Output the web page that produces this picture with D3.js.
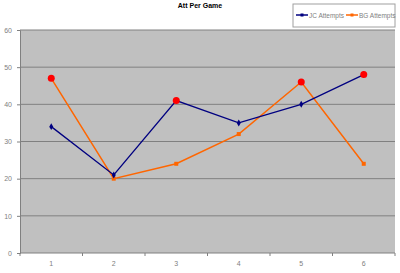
<!DOCTYPE html>
<html>
<head>
<meta charset="utf-8">
<script src="https://cdn.jsdelivr.net/npm/d3@7"></script>
<style>
  body { margin: 0; background: #fff; }
  text { font-family: Arial, "Liberation Sans", sans-serif; }
</style>
</head>
<body>
<div id="chart"></div>
<script>
// data
let games = [1, 2, 3, 4, 5, 6];
let jcAttempts = [34, 21, 41, 35, 40, 48];
let bgAttempts = [47, 20, 24, 32, 46, 24];
let yTicks = [0, 10, 20, 30, 40, 50, 60];
// red dots drawn on top: [game, value]
let highlights = [[1, 47], [3, 41], [5, 46], [6, 48]];

let width = 400, height = 273;
let plotL = 20, plotR = 395, plotT = 30, plotB = 253;

let svg = d3.select('#chart')
    .append('svg')
    .attr('width', width)
    .attr('height', height);

let x = d3.scaleBand().domain(games).range([plotL, plotR]);
let y = d3.scaleLinear().domain([0, 60]).range([plotB, plotT]);
let cx = d => x(d) + x.bandwidth() / 2;

// plot area
svg.append('rect')
    .attr('x', plotL).attr('y', plotT)
    .attr('width', plotR - plotL).attr('height', plotB - plotT)
    .attr('fill', '#c0c0c0');

// gridlines
svg.append('g')
    .selectAll('line')
    .data(yTicks.filter(d => d > 0))
    .enter().append('line')
    .attr('x1', plotL).attr('x2', plotR)
    .attr('y1', d => y(d)).attr('y2', d => y(d))
    .attr('stroke', '#808080')
    .attr('stroke-width', 1);

// y axis
let yAxis = d3.axisLeft(y).tickValues(yTicks).tickSize(3).tickPadding(5);
let gy = svg.append('g')
    .attr('transform', 'translate(' + plotL + ',0)')
    .call(yAxis);
gy.select('.domain').attr('stroke', '#808080');
gy.selectAll('.tick line').attr('stroke', '#808080');
gy.selectAll('text').attr('fill', '#808080').style('font-size', '7px');

// x axis
let gx = svg.append('g')
    .attr('transform', 'translate(0,' + plotB + ')');
gx.append('line')
    .attr('x1', plotL).attr('x2', plotR)
    .attr('stroke', '#808080');
gx.selectAll('.tk')
    .data(games.concat([7]))
    .enter().append('line')
    .attr('class', 'tk')
    .attr('x1', (d, i) => plotL + i * x.bandwidth())
    .attr('x2', (d, i) => plotL + i * x.bandwidth())
    .attr('y1', 0).attr('y2', 3)
    .attr('stroke', '#808080');
gx.selectAll('text')
    .data(games)
    .enter().append('text')
    .attr('x', d => cx(d))
    .attr('y', 13)
    .attr('text-anchor', 'middle')
    .attr('fill', '#808080')
    .style('font-size', '7px')
    .text(d => d);

let line = d3.line()
    .x((d, i) => cx(games[i]))
    .y(d => y(d));

// BG line
svg.append('path')
    .attr('d', line(bgAttempts))
    .attr('fill', 'none')
    .attr('stroke', '#ff6600')
    .attr('stroke-width', 1.5);
svg.selectAll('.bg')
    .data(bgAttempts)
    .enter().append('rect')
    .attr('x', (d, i) => cx(games[i]) - 2)
    .attr('y', d => y(d) - 2)
    .attr('width', 4).attr('height', 4)
    .attr('fill', '#ff6600');

// JC line
svg.append('path')
    .attr('d', line(jcAttempts))
    .attr('fill', 'none')
    .attr('stroke', '#000080')
    .attr('stroke-width', 1.3);
svg.selectAll('.jc')
    .data(jcAttempts)
    .enter().append('path')
    .attr('d', d3.symbol().type(d3.symbolDiamond).size(14))
    .attr('transform', (d, i) => 'translate(' + cx(games[i]) + ',' + y(d) + ')')
    .attr('fill', '#000080');

// red highlight dots
svg.selectAll('.hl')
    .data(highlights)
    .enter().append('circle')
    .attr('cx', d => cx(d[0]))
    .attr('cy', d => y(d[1]))
    .attr('r', 3.5)
    .attr('fill', '#ff0000');

// title
svg.append('text')
    .attr('x', 200).attr('y', 8)
    .attr('text-anchor', 'middle')
    .style('font-size', '7px')
    .style('font-weight', 'bold')
    .text('Att Per Game');

// legend
let lg = svg.append('g').attr('transform', 'translate(293,4)');
lg.append('rect')
    .attr('width', 102).attr('height', 23)
    .attr('fill', '#fff')
    .attr('stroke', '#a0a0a0');
let items = [['JC Attempts', '#000080'], ['BG Attempts', '#ff6600']];
items.forEach(function (it, i) {
    let ox = 3 + i * 50;
    lg.append('line')
        .attr('x1', ox).attr('x2', ox + 12)
        .attr('y1', 11).attr('y2', 11)
        .attr('stroke', it[1]).attr('stroke-width', 1.5);
    lg.append('rect')
        .attr('x', ox + 4.5).attr('y', 9.5)
        .attr('width', 3).attr('height', 3)
        .attr('fill', it[1]);
    lg.append('text')
        .attr('x', ox + 13).attr('y', 13.5)
        .attr('fill', '#808080')
        .style('font-size', '6.5px')
        .text(it[0]);
});
</script>
</body>
</html>
